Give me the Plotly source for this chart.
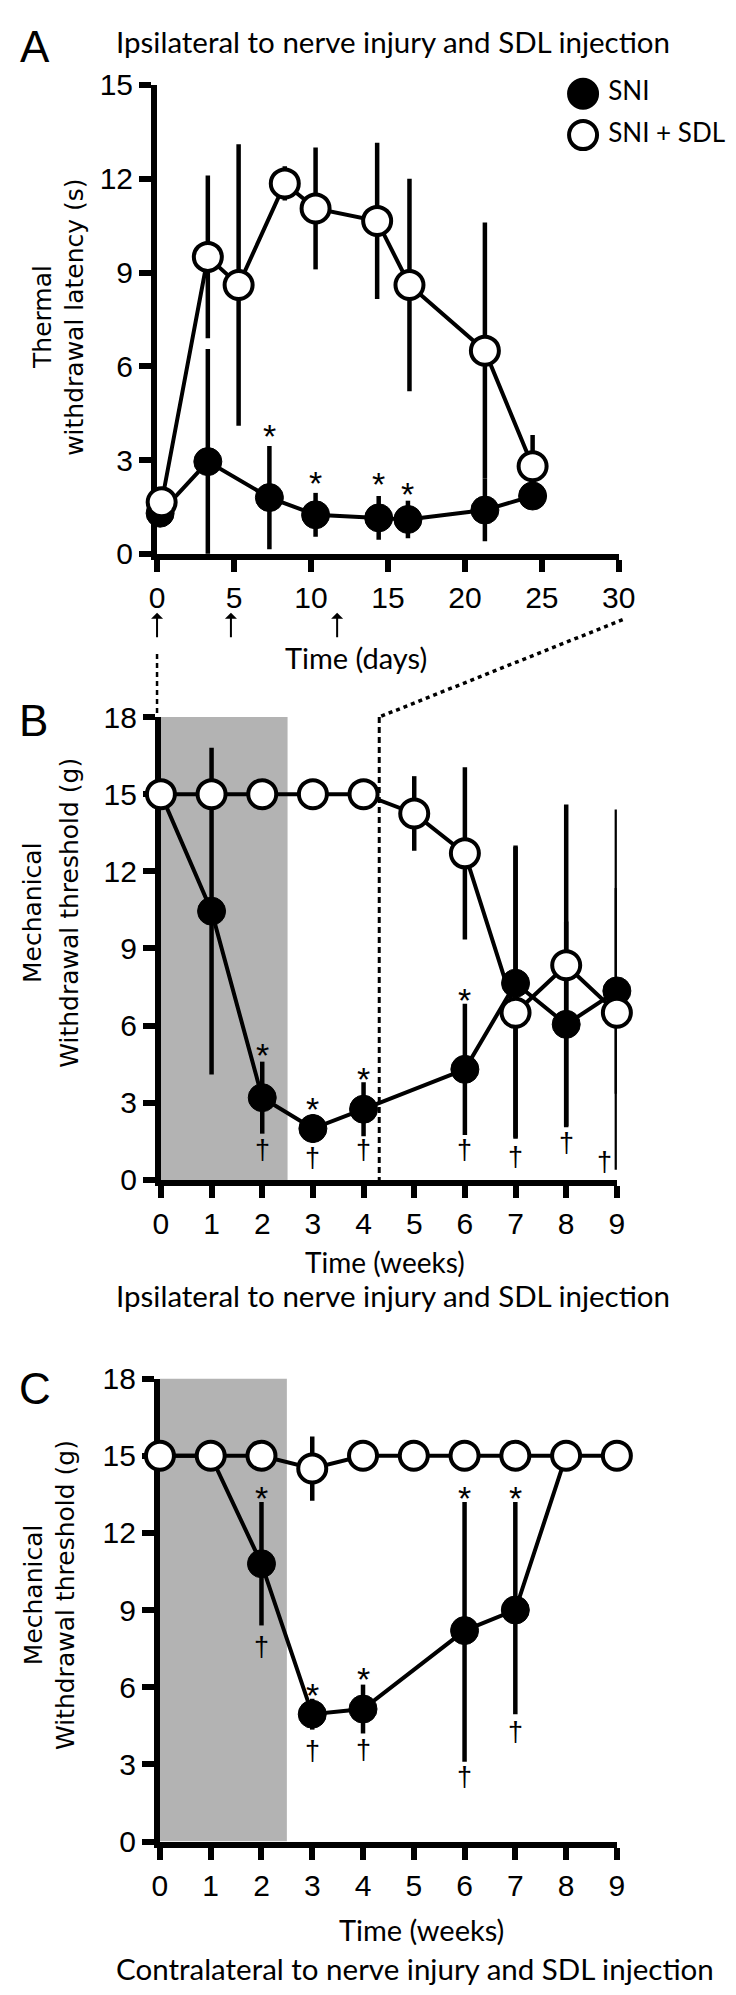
import plotly.graph_objects as go

W, H = 736, 1995


def px(x):
    return x / W


def py(y):
    return 1 - y / H


# ---- Panel A: thermal withdrawal latency (s) vs time (days), ipsilateral ----
a_sdl_days = [0.3, 3.3, 5.3, 8.3, 10.3, 14.3, 16.4, 21.3, 24.4]
a_sdl_vals = [1.65, 9.5, 8.6, 11.85, 11.05, 10.65, 8.6, 6.5, 2.8]
a_sdl_err = [0, 2.6, 4.5, 0.55, 1.95, 2.5, 3.4, 4.1, 1.0]

a_sni_days = [0.2, 3.3, 7.3, 10.3, 14.4, 16.3, 21.3, 24.4]
a_sni_vals = [1.3, 2.95, 1.8, 1.25, 1.15, 1.1, 1.4, 1.85]
a_sni_err = [0, 3.6, 1.65, 0.7, 0.7, 0.6, 1.0, 0.3]

a_star_days = [7.3, 10.3, 14.4, 16.3]
a_star_y = [4.1, 2.6, 2.55, 2.25]
injection_days = [0, 4.8, 11.7]

# ---- Panel B: mechanical threshold (g) vs time (weeks), ipsilateral ----
b_sdl_wk = [0, 1, 2, 3, 4, 5, 6, 7, 8, 9]
b_sdl_vals = [15, 15, 15, 15, 15, 14.25, 12.7, 6.5, 8.35, 6.5]
b_sdl_err_up = [0, 0, 0, 0, 0, 1.45, 3.35, 6.5, 6.25, 7.9]
b_sdl_err_dn = [0, 0, 0, 0, 0, 1.45, 3.35, 4.9, 6.25, 6.1]

b_sni_wk = [0, 1, 2, 3, 4, 6, 7, 8, 9]
b_sni_vals = [15, 10.45, 3.2, 2.0, 2.75, 4.3, 7.65, 6.05, 7.35]
b_sni_err_up = [0, 6.35, 1.4, 0.55, 1.05, 2.55, 5.3, 4.0, 4.0]
b_sni_err_dn = [0, 6.35, 1.4, 0.55, 1.05, 2.55, 6.0, 4.0, 4.0]

b_star_wk = [2, 3, 4, 6]
b_star_y = [5.25, 3.15, 4.3, 7.4]
b_dagger_wk = [2, 3, 4, 6, 7, 8, 8.76]
b_dagger_y = [1.15, 0.85, 1.15, 1.15, 0.9, 1.45, 0.7]

# ---- Panel C: mechanical threshold (g) vs time (weeks), contralateral ----
c_sdl_wk = [0, 1, 2, 3, 4, 5, 6, 7, 8, 9]
c_sdl_vals = [15, 15, 15, 14.5, 15, 15, 15, 15, 15, 15]
c_sdl_err = [0, 0, 0, 1.25, 0, 0, 0, 0, 0, 0]

c_sni_wk = [0, 1, 2, 3, 4, 6, 7, 8]
c_sni_vals = [15, 15, 10.8, 4.95, 5.15, 8.2, 9.0, 15]
c_sni_err_up = [0, 0, 2.4, 0.6, 0.95, 5.0, 4.2, 0]
c_sni_err_dn = [0, 0, 2.4, 0.6, 0.95, 5.1, 4.05, 0]

c_star_wk = [2, 3, 4, 6, 7]
c_star_y = [13.75, 6.1, 6.7, 13.75, 13.75]
c_dagger_wk = [2, 3, 4, 6, 7]
c_dagger_y = [7.55, 3.5, 3.55, 2.5, 4.25]

shade_weeks = [0, 2.5]
legend_labels = ["SNI", "SNI + SDL"]

TICK_FONT = dict(family="Liberation Sans, Arial", size=30, color="black")
TEXT_FONT = "Lato, Open Sans, sans-serif"
YTITLE_FONT = dict(family="DejaVu Sans, Verdana", size=25, color="black")
MS = 28

fig = go.Figure()


def add_pair(xa, ya, sni_x, sni_y, sni_up, sni_dn, sdl_x, sdl_y, sdl_up, sdl_dn):
    fig.add_trace(go.Scatter(
        x=sni_x, y=sni_y, mode="lines+markers", xaxis=xa, yaxis=ya,
        line=dict(color="black", width=4),
        marker=dict(size=MS, color="black", line=dict(color="black", width=1)),
        error_y=dict(type="data", array=sni_up, arrayminus=sni_dn, symmetric=False,
                     color="black", thickness=4.5, width=0),
        cliponaxis=False, showlegend=False))
    fig.add_trace(go.Scatter(
        x=sdl_x, y=sdl_y, mode="lines+markers", xaxis=xa, yaxis=ya,
        line=dict(color="black", width=4),
        marker=dict(size=MS, color="white", line=dict(color="black", width=4)),
        error_y=dict(type="data", array=sdl_up, arrayminus=sdl_dn, symmetric=False,
                     color="black", thickness=4.5, width=0),
        cliponaxis=False, showlegend=False))


add_pair("x", "y", a_sni_days, a_sni_vals, a_sni_err, a_sni_err,
         a_sdl_days, a_sdl_vals, a_sdl_err, a_sdl_err)
add_pair("x2", "y2", b_sni_wk, b_sni_vals, b_sni_err_up, b_sni_err_dn,
         b_sdl_wk, b_sdl_vals, b_sdl_err_up, b_sdl_err_dn)
add_pair("x3", "y3", c_sni_wk, c_sni_vals, c_sni_err_up, c_sni_err_dn,
         c_sdl_wk, c_sdl_vals, c_sdl_err, c_sdl_err)

# legend drawn on its own small axes so the symbols keep full size
fig.add_trace(go.Scatter(
    x=[0.5, 0.5], y=[0.75, 0.225], mode="markers+text", xaxis="x4", yaxis="y4",
    text=[" " + t for t in legend_labels], textposition="middle right",
    textfont=dict(family=TEXT_FONT, size=26, color="black"),
    marker=dict(size=MS, color=["black", "white"], line=dict(color="black", width=4)),
    cliponaxis=False, showlegend=False))

axis_common = dict(showline=True, linewidth=6, linecolor="black", ticks="outside",
                   ticklen=12, tickwidth=6, tickcolor="black", showgrid=False,
                   zeroline=False, tickfont=TICK_FONT, layer="below traces")

fig.update_layout(
    xaxis=dict(domain=[px(146), px(624)], range=[0, 30], tickvals=list(range(0, 31, 5)),
               anchor="y", **axis_common),
    yaxis=dict(domain=[py(538), py(61)], range=[0, 15], tickvals=list(range(0, 16, 3)),
               anchor="x", **axis_common),
    xaxis2=dict(domain=[px(150), px(622)], range=[0, 9], tickvals=list(range(10)),
                anchor="y2", **axis_common),
    yaxis2=dict(domain=[py(1175), py(704)], range=[0, 18], tickvals=list(range(0, 19, 3)),
                anchor="x2", **axis_common),
    xaxis3=dict(domain=[px(149), px(622)], range=[0, 9], tickvals=list(range(10)),
                anchor="y3", **axis_common),
    yaxis3=dict(domain=[py(1848), py(1377)], range=[0, 18], tickvals=list(range(0, 19, 3)),
                anchor="x3", **axis_common),
    xaxis4=dict(domain=[px(574), px(600)], range=[0, 1], visible=False, anchor="y4"),
    yaxis4=dict(domain=[py(130), py(50)], range=[0, 1], visible=False, anchor="x4"),
)

shapes = []
for xa, ya in (("x2", "y2"), ("x3", "y3")):
    shapes.append(dict(type="rect", xref=xa, yref=ya, x0=shade_weeks[0], x1=shade_weeks[1],
                       y0=0, y1=18, fillcolor="#b3b3b3", line=dict(width=0), layer="below"))
# dashed connectors between the day axis (A) and the week axis (B)
shapes.append(dict(type="line", xref="paper", yref="paper", x0=px(146), x1=px(146),
                   y0=py(640), y1=py(703), line=dict(color="black", width=2.5, dash="5px,4px")))
shapes.append(dict(type="line", xref="paper", yref="paper", x0=px(628), x1=px(376),
                   y0=py(605), y1=py(704), line=dict(color="black", width=3.5, dash="4px,4px")))
shapes.append(dict(type="line", xref="paper", yref="paper", x0=px(376), x1=px(376),
                   y0=py(704), y1=py(1182), line=dict(color="black", width=3, dash="6px,4px")))

ann = []


def text(x, y, s, size, family=TEXT_FONT, **kw):
    ann.append(dict(x=px(x), y=py(y), xref="paper", yref="paper", text=s, showarrow=False,
                    font=dict(family=family, size=size, color="black"),
                    xanchor="center", yanchor="middle", borderpad=0, **kw))


# panel letters
text(20, 22, "A", 44, family="Liberation Sans, Arial")
text(18, 708, "B", 44, family="Liberation Sans, Arial")
text(20, 1387, "C", 44, family="Liberation Sans, Arial")

# titles / axis captions
text(390, 17, "Ipsilateral to nerve injury and SDL injection", 29.5)
text(352, 643, "Time (days)", 29)
text(382, 1258, "Time (weeks)", 28)
text(390, 1293, "Ipsilateral to nerve injury and SDL injection", 29.5)
text(420, 1938, "Time (weeks)", 29)
text(413, 1977, "Contralateral to nerve injury and SDL injection", 29.5)

# y-axis titles, each line placed on its own
for xc, yc, s in ((28, 297, "Thermal"), (61, 297, "withdrawal latency (s)"),
                  (17, 903, "Mechanical"), (56, 903, "Withdrawal threshold (g)"),
                  (18, 1597, "Mechanical"), (52, 1597, "Withdrawal threshold (g)")):
    ann.append(dict(x=px(xc), y=py(yc), xref="paper", yref="paper", text=s, showarrow=False,
                    textangle=-90, font=YTITLE_FONT, xanchor="center", yanchor="middle",
                    borderpad=0))

# significance markers
for xa, ya, xs, ys in (("x", "y", a_star_days, a_star_y), ("x2", "y2", b_star_wk, b_star_y),
                       ("x3", "y3", c_star_wk, c_star_y)):
    for xv, yv in zip(xs, ys):
        ann.append(dict(x=xv, y=yv, xref=xa, yref=ya, text="*", showarrow=False, yshift=-10,
                        font=dict(family="Liberation Sans, Arial", size=34, color="black")))
for xa, ya, xs, ys in (("x2", "y2", b_dagger_wk, b_dagger_y), ("x3", "y3", c_dagger_wk, c_dagger_y)):
    for xv, yv in zip(xs, ys):
        ann.append(dict(x=xv, y=yv, xref=xa, yref=ya, text="†", showarrow=False,
                        font=dict(family="Liberation Sans, Arial", size=27, color="black")))

# injection arrows under the day axis
for d in injection_days:
    ann.append(dict(x=d, y=py(598), xref="x", yref="paper", text="", showarrow=True,
                    ax=0, ay=26, arrowhead=1, arrowsize=1, arrowwidth=2, arrowcolor="black"))

fig.update_layout(
    width=W, height=H, margin=dict(l=0, r=0, t=0, b=0),
    plot_bgcolor="white", paper_bgcolor="white",
    shapes=shapes, annotations=ann, showlegend=False,
)

fig.write_html("out.html")
